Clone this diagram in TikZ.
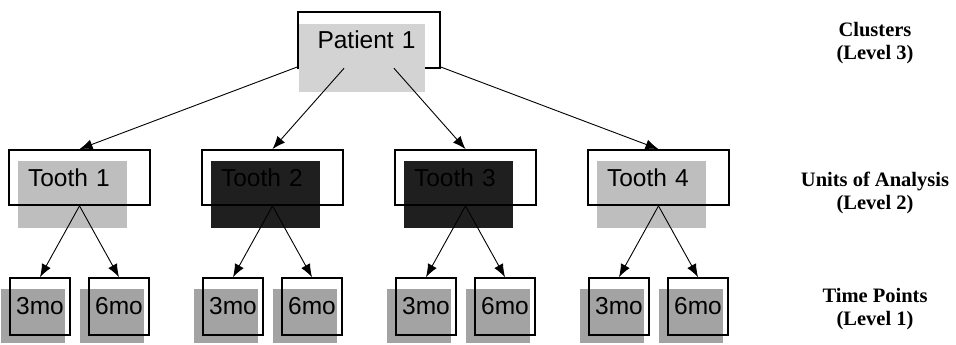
\documentclass[tikz,border=0pt]{standalone}
\usepackage{fontspec}
\setmainfont{Liberation Sans}
\newfontfamily\levelfont{Liberation Serif}
\usetikzlibrary{arrows.meta,backgrounds}
\definecolor{patientgray}{HTML}{D3D3D3}
\definecolor{toothgray}{HTML}{BEBEBE}
\definecolor{toothdark}{HTML}{1F1F1F}
\definecolor{timegray}{HTML}{A3A3A3}
\begin{document}
\begin{tikzpicture}[x=1pt, y=1pt, every node/.style={font=\fontsize{24.5}{28}\selectfont},
        unitbox/.style={rectangle, minimum height=55pt, text width=103pt, inner xsep=19pt, align=left},
        timebox/.style={draw, rectangle, line width=1.8pt, minimum width=60pt, minimum height=57pt, inner sep=0pt},
        levelnote/.style={font=\levelfont\bfseries\fontsize{20.5}{23}\selectfont, align=center},
        child anchor=north,
        edge from parent/.style={draw, line width=0.9pt, -{Latex[length=13pt,width=10pt]}},
        level 1/.style={level distance=137.5pt, sibling distance=193pt},
        level 2/.style={level distance=129pt, sibling distance=79pt,
            edge from parent path={(\tikzparentnode.south) -- (\tikzchildnode\tikzchildanchor)}}]
    \useasboundingbox (0,0) rectangle (956,-345);
    \node[unitbox, minimum height=56pt] (patient) at (369,-40) {Patient 1}
        child { node[unitbox, draw, line width=1.8pt] (tooth1) {Tooth 1}
            child { node[timebox] (t1a) {3mo} }
            child { node[timebox] (t1b) {6mo} } }
        child { node[unitbox, draw, line width=1.8pt] (tooth2) {Tooth 2}
            child { node[timebox] (t2a) {3mo} }
            child { node[timebox] (t2b) {6mo} } }
        child { node[unitbox, draw, line width=1.8pt] (tooth3) {Tooth 3}
            child { node[timebox] (t3a) {3mo} }
            child { node[timebox] (t3b) {6mo} } }
        child { node[unitbox, draw, line width=1.8pt] (tooth4) {Tooth 4}
            child { node[timebox] (t4a) {3mo} }
            child { node[timebox] (t4b) {6mo} } };
    \begin{pgfonlayer}{background}
        \draw[line width=1.8pt] (patient.north west) rectangle (patient.south east);
        \fill[patientgray] ([xshift=1pt,yshift=-12pt]patient.north west) rectangle ++(126,-68);
        \foreach \t/\c in {tooth1/toothgray, tooth2/toothdark, tooth3/toothdark, tooth4/toothgray}
            \fill[\c] ([xshift=10pt,yshift=-12pt]\t.north west) rectangle ++(109,-67);
        \foreach \t in {t1a,t1b,t2a,t2b,t3a,t3b,t4a,t4b}
            \fill[timegray] ([xshift=-8pt,yshift=-12pt]\t.north west) rectangle ++(64,-54);
    \end{pgfonlayer}
    \node[levelnote] (level3) at (875,-43.5) {Clusters\\(Level 3)};
    \node[levelnote] (level2) at (875,-192.5) {Units of Analysis\\(Level 2)};
    \node[levelnote] (level1) at (875,-309) {Time Points\\(Level 1)};
\end{tikzpicture}
\end{document}
